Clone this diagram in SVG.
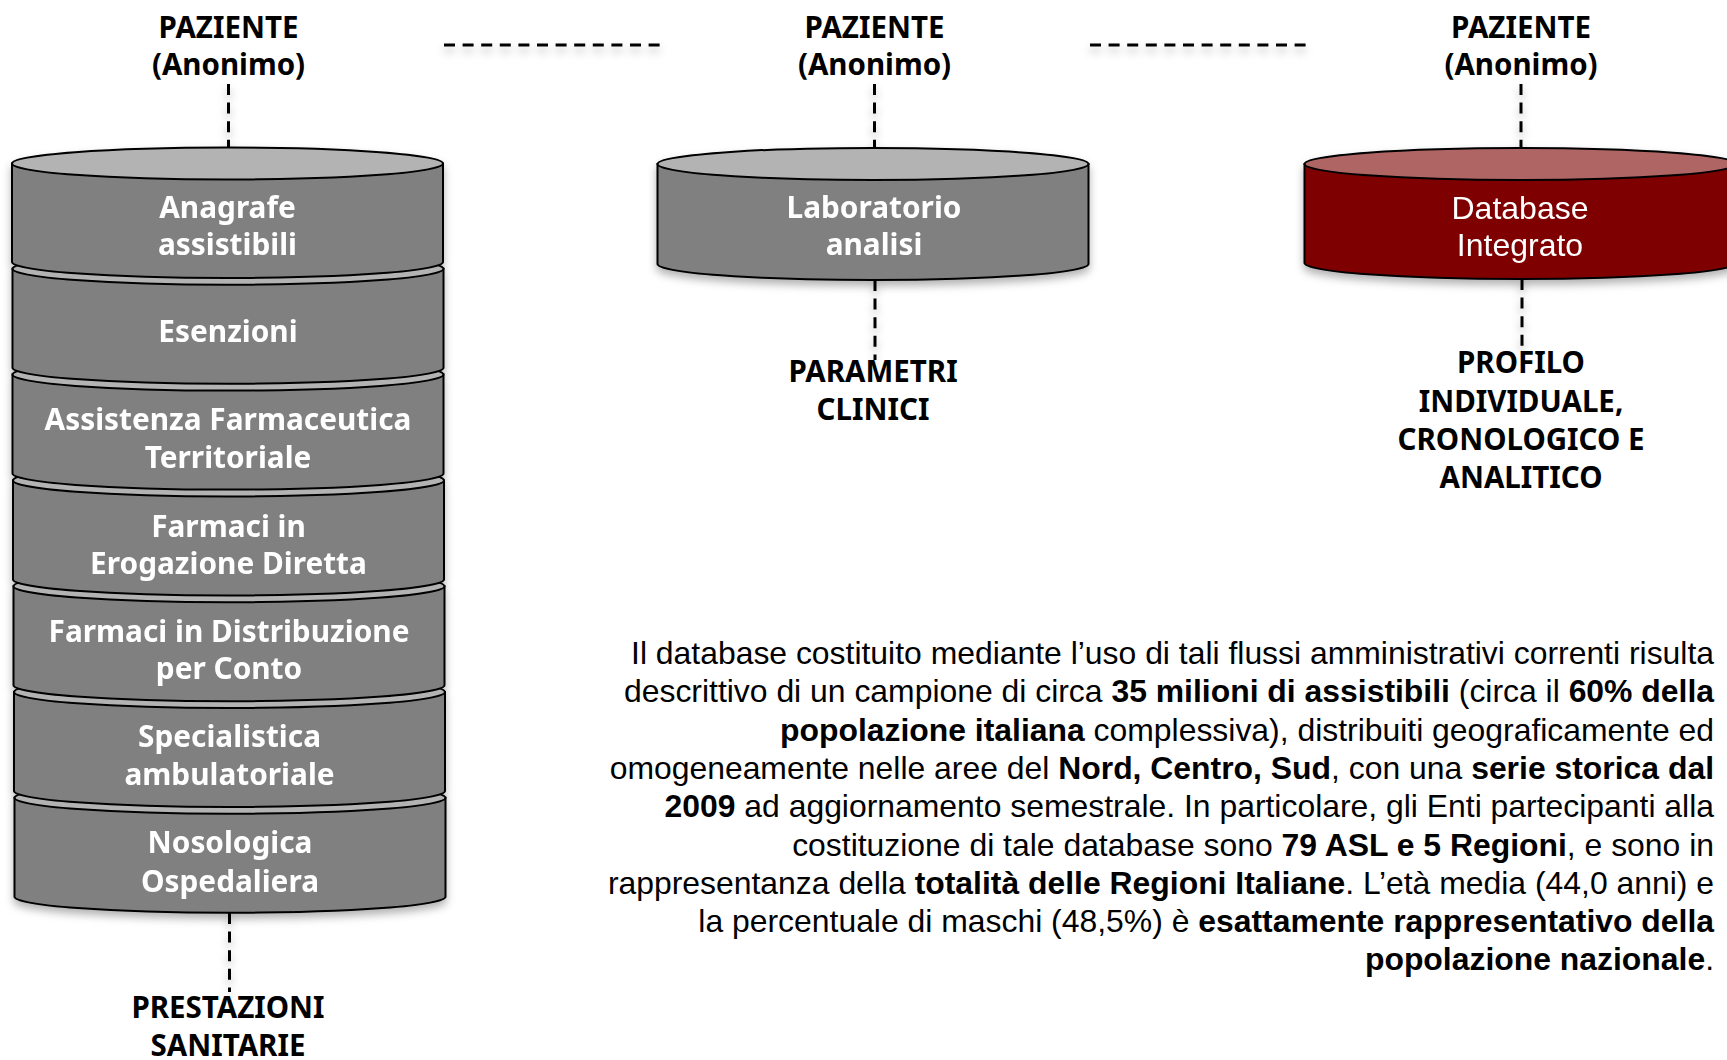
<svg xmlns="http://www.w3.org/2000/svg" width="1727" height="1060" viewBox="0 0 1727 1060">
<style>
.lbl{font-family:"Noto Sans","Open Sans","DejaVu Sans",sans-serif;font-weight:700;font-size:29.5px;fill:#000;text-anchor:middle}
.wl{font-family:"Noto Sans","Open Sans","DejaVu Sans",sans-serif;font-weight:700;font-size:29.8px;fill:#fff;text-anchor:middle}
.wr{font-family:"Liberation Sans",Arial,sans-serif;font-size:32px;fill:#fff;text-anchor:middle}
.par{font-family:"Liberation Sans",Arial,sans-serif;font-size:31.9px;fill:#000;text-anchor:end}
.b{font-weight:700}
.body{fill:#808080;stroke:#000;stroke-width:2}
.top{fill:#b3b3b3;stroke:#000;stroke-width:2}
.rbody{fill:#7f0000;stroke:#000;stroke-width:2}
.rtop{fill:#b06565;stroke:#000;stroke-width:2}
.dash{stroke:#000;stroke-width:3;stroke-dasharray:11 7.6;fill:none}
</style>
<defs>
<filter id="sh" x="-10%" y="-10%" width="120%" height="130%">
<feDropShadow dx="0" dy="5" stdDeviation="4" flood-color="#000" flood-opacity="0.3"/>
</filter>
</defs>

<g id="connectors" filter="url(#sh)">
<line class="dash" x1="444" y1="45" x2="661" y2="45"/>
<line class="dash" x1="1090" y1="45" x2="1307" y2="45"/>
<line class="dash" x1="228.5" y1="84" x2="228.5" y2="164"/>
<line class="dash" x1="874.5" y1="84" x2="874.5" y2="164"/>
<line class="dash" x1="1521" y1="84" x2="1521" y2="164"/>
<line class="dash" x1="229.5" y1="913" x2="229.5" y2="992"/>
<line class="dash" x1="875" y1="280" x2="875" y2="360"/>
<line class="dash" x1="1522" y1="279" x2="1522" y2="346"/>
</g>

<g id="stack" filter="url(#sh)">
<g id="seg7">
<path class="body" d="M14.5 797.8 L14.5 896.8 A215.5 16 0 0 0 445.5 896.8 L445.5 797.8 Z"/>
<ellipse class="top" cx="230" cy="797.8" rx="215.5" ry="16"/>
<text class="wl" x="230" y="853">Nosologica</text>
<text class="wl" x="230" y="891.5">Ospedaliera</text>
</g>
<g id="seg6">
<path class="body" d="M14 692 L14 791 A215.5 16 0 0 0 445 791 L445 692 Z"/>
<ellipse class="top" cx="229.5" cy="692" rx="215.5" ry="16"/>
<text class="wl" x="229.5" y="746.5">Specialistica</text>
<text class="wl" x="229.5" y="785">ambulatoriale</text>
</g>
<g id="seg5">
<path class="body" d="M13.5 586.2 L13.5 685.2 A215.5 16 0 0 0 444.5 685.2 L444.5 586.2 Z"/>
<ellipse class="top" cx="229" cy="586.2" rx="215.5" ry="16"/>
<text class="wl" x="229" y="641.5">Farmaci in Distribuzione</text>
<text class="wl" x="229" y="678.5">per Conto</text>
</g>
<g id="seg4">
<path class="body" d="M13 480.4 L13 579.4 A215.5 16 0 0 0 444 579.4 L444 480.4 Z"/>
<ellipse class="top" cx="228.5" cy="480.4" rx="215.5" ry="16"/>
<text class="wl" x="228.5" y="536.5">Farmaci in</text>
<text class="wl" x="228.5" y="574">Erogazione Diretta</text>
</g>
<g id="seg3">
<path class="body" d="M12.5 374.6 L12.5 473.6 A215.5 16 0 0 0 443.5 473.6 L443.5 374.6 Z"/>
<ellipse class="top" cx="228" cy="374.6" rx="215.5" ry="16"/>
<text class="wl" x="228" y="430">Assistenza Farmaceutica</text>
<text class="wl" x="228" y="468">Territoriale</text>
</g>
<g id="seg2">
<path class="body" d="M12.5 268.8 L12.5 367.8 A215.5 16 0 0 0 443.5 367.8 L443.5 268.8 Z"/>
<ellipse class="top" cx="228" cy="268.8" rx="215.5" ry="16"/>
<text class="wl" x="228" y="342">Esenzioni</text>
</g>
<g id="seg1">
<path class="body" d="M12 163.5 L12 262 A215.5 16 0 0 0 443 262 L443 163.5 Z"/>
<ellipse class="top" cx="227.5" cy="163.5" rx="215.5" ry="16"/>
<text class="wl" x="227.5" y="218">Anagrafe</text>
<text class="wl" x="227.5" y="255">assistibili</text>
</g>
</g>

<g id="laboratorio" filter="url(#sh)">
<path class="body" d="M657.5 164 L657.5 264 A215.5 16 0 0 0 1088.5 264 L1088.5 164 Z"/>
<ellipse class="top" cx="873" cy="164" rx="215.5" ry="16"/>
<text class="wl" x="874" y="218">Laboratorio</text>
<text class="wl" x="874" y="255">analisi</text>
</g>

<g id="database" filter="url(#sh)">
<path class="rbody" d="M1304.5 164 L1304.5 263 A216 16 0 0 0 1736.5 263 L1736.5 164 Z"/>
<ellipse class="rtop" cx="1520.5" cy="164" rx="216" ry="16"/>
<text class="wr" x="1520" y="219">Database</text>
<text class="wr" x="1520" y="256">Integrato</text>
</g>

<g id="paziente1"><text class="lbl" x="228.5" y="38">PAZIENTE</text><text class="lbl" x="228.5" y="75">(Anonimo)</text></g>
<g id="paziente2"><text class="lbl" x="874.5" y="38">PAZIENTE</text><text class="lbl" x="874.5" y="75">(Anonimo)</text></g>
<g id="paziente3"><text class="lbl" x="1521" y="38">PAZIENTE</text><text class="lbl" x="1521" y="75">(Anonimo)</text></g>
<g id="prestazioni"><text class="lbl" x="228" y="1018">PRESTAZIONI</text><text class="lbl" x="228" y="1056">SANITARIE</text></g>
<g id="parametri"><text class="lbl" x="873" y="382">PARAMETRI</text><text class="lbl" x="873" y="420">CLINICI</text></g>
<g id="profilo"><text class="lbl" x="1521" y="373">PROFILO</text><text class="lbl" x="1521" y="412">INDIVIDUALE,</text><text class="lbl" x="1521" y="450">CRONOLOGICO E</text><text class="lbl" x="1521" y="488">ANALITICO</text></g>

<g id="paragraph">
<text class="par" x="1714" y="664">Il database costituito mediante l’uso di tali flussi amministrativi correnti risulta</text>
<text class="par" x="1714" y="702.3">descrittivo di un campione di circa <tspan class="b">35 milioni di assistibili</tspan> (circa il <tspan class="b">60% della</tspan></text>
<text class="par" x="1714" y="740.6"><tspan class="b">popolazione italiana</tspan> complessiva), distribuiti geograficamente ed</text>
<text class="par" x="1714" y="778.9">omogeneamente nelle aree del <tspan class="b">Nord, Centro, Sud</tspan>, con una <tspan class="b">serie storica dal</tspan></text>
<text class="par" x="1714" y="817.2"><tspan class="b">2009</tspan> ad aggiornamento semestrale. In particolare, gli Enti partecipanti alla</text>
<text class="par" x="1714" y="855.5">costituzione di tale database sono <tspan class="b">79 ASL e 5 Regioni</tspan>, e sono in</text>
<text class="par" x="1714" y="893.8">rappresentanza della <tspan class="b">totalità delle Regioni Italiane</tspan>. L’età media (44,0 anni) e</text>
<text class="par" x="1714" y="932.1">la percentuale di maschi (48,5%) è <tspan class="b">esattamente rappresentativo della</tspan></text>
<text class="par" x="1714" y="970.4"><tspan class="b">popolazione nazionale</tspan>.</text>
</g>
</svg>
